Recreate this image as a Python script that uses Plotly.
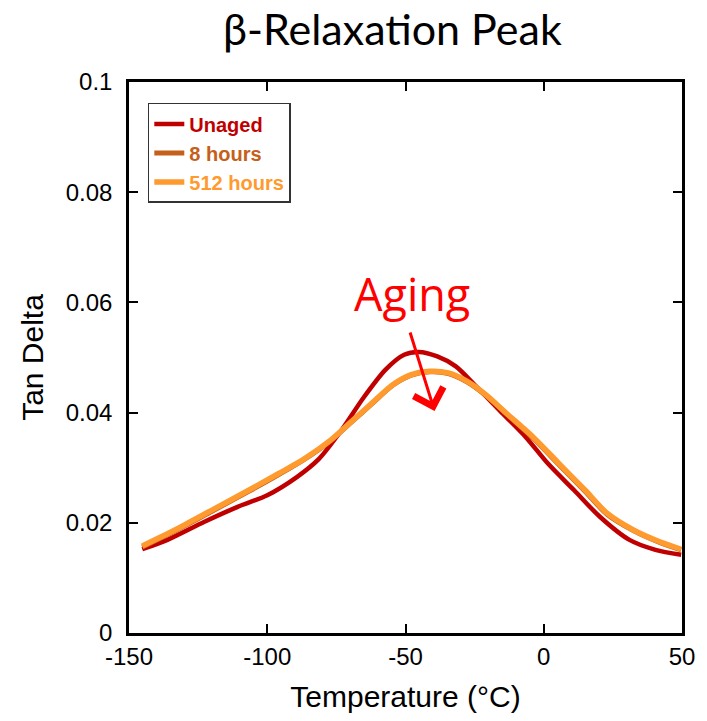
import plotly.graph_objects as go

# Temperature (°C) and tan delta values
unaged_T = [-145.2, -136.1, -122.7, -110.7, -100.0, -89.3, -81.3, -73.3, -65.2, -57.2,
            -50.5, -45.2, -38.5, -31.8, -25.1, -15.8, -6.4, 1.6, 11.0, 20.3, 31.0, 40.4, 49.7]
unaged_tan = [0.0152, 0.0169, 0.0202, 0.0229, 0.0250, 0.0283, 0.0316, 0.0367, 0.0427, 0.0478,
              0.0505, 0.0510, 0.0502, 0.0484, 0.0451, 0.0403, 0.0355, 0.0307, 0.0259, 0.0211,
              0.0169, 0.0151, 0.0142]

h8_T = [-145.2, -133.4, -120.0, -106.7, -96.0, -86.6, -77.3, -70.6, -62.6, -54.5,
        -47.9, -41.2, -34.5, -27.8, -21.1, -13.1, -3.7, 5.6, 15.0, 23.0, 32.4, 41.7, 49.7]
h8_tan = [0.0156, 0.0185, 0.0221, 0.0257, 0.0287, 0.0315, 0.0348, 0.0378, 0.0414, 0.0450,
          0.0468, 0.0474, 0.0471, 0.0456, 0.0432, 0.0396, 0.0353, 0.0305, 0.0257, 0.0215,
          0.0186, 0.0165, 0.0151]

h512_T = [-145.2, -133.4, -120.0, -106.7, -96.0, -86.6, -77.3, -70.6, -62.6, -54.5,
          -47.9, -41.2, -34.5, -27.8, -21.1, -13.1, -3.7, 5.6, 15.0, 23.0, 32.4, 41.7, 49.7]
h512_tan = [0.0158, 0.0187, 0.0223, 0.0259, 0.0289, 0.0316, 0.0349, 0.0379, 0.0415, 0.0451,
            0.0469, 0.0475, 0.0472, 0.0457, 0.0433, 0.0397, 0.0355, 0.0307, 0.0259, 0.0217,
            0.0187, 0.0166, 0.0152]

series_names = ["Unaged", "8 hours", "512 hours"]
x_ticks = [-150, -100, -50, 0, 50]
x_tick_labels = ["-150", "-100", "-50", "0", "50"]
y_ticks = [0, 0.02, 0.04, 0.06, 0.08, 0.1]
y_tick_labels = ["0", "0.02", "0.04", "0.06", "0.08", "0.1"]

colors = ["#C00000", "#C5601A", "#FF9A2E"]
widths = [4.5, 5, 5.5]

fig = go.Figure()
for name, xs, ys, c, w in zip(series_names,
                              [unaged_T, h8_T, h512_T],
                              [unaged_tan, h8_tan, h512_tan],
                              colors, widths):
    fig.add_trace(go.Scatter(
        x=xs, y=ys, mode="lines",
        line=dict(color=c, width=w, shape="spline", smoothing=0.8),
        name=f"<b><span style='color:{c}'>{name}</span></b>",
    ))

axis_font = dict(family="Liberation Sans", size=24, color="black")
title_font = dict(family="Liberation Sans", size=30, color="black")

fig.update_layout(
    width=707, height=721,
    margin=dict(l=129, r=23, t=82, b=85),
    paper_bgcolor="white", plot_bgcolor="white",
    title=dict(text="β-Relaxation Peak", x=0.555, xanchor="center", y=0.958, yanchor="middle",
               font=dict(family="Lato", size=43, color="black")),
    xaxis=dict(range=[-150, 50], tickvals=x_ticks, ticktext=x_tick_labels, ticks="inside",
               ticklen=9, tickwidth=2, tickcolor="black", mirror="ticks", showline=True,
               linecolor="black", linewidth=2.5, showgrid=False, zeroline=False,
               tickfont=axis_font,
               title=dict(text="Temperature (°C)", standoff=18, font=title_font)),
    yaxis=dict(range=[0, 0.1], tickvals=y_ticks, ticktext=y_tick_labels, ticks="inside",
               ticklen=9, tickwidth=2, tickcolor="black", mirror="ticks", showline=True,
               linecolor="black", linewidth=2.5, showgrid=False, zeroline=False,
               tickfont=axis_font, ticklabelstandoff=9,
               title=dict(text="Tan Delta", standoff=14, font=title_font)),
    legend=dict(x=0.034, y=0.962, xanchor="left", yanchor="top",
                bordercolor="#333333", borderwidth=1.5, bgcolor="white",
                font=dict(family="Liberation Sans", size=20),
                tracegroupgap=0),
    showlegend=True,
)

fig.add_annotation(text="Aging", x=-47.5, y=0.0616, xref="x", yref="y", showarrow=False,
                   font=dict(family="Open Sans", size=45, color="#FF0000"))
fig.add_annotation(x=-39.5, y=0.0403, ax=-48.5, ay=0.0548, xref="x", yref="y",
                   axref="x", ayref="y", showarrow=True, arrowhead=4, arrowsize=2,
                   arrowwidth=3, arrowcolor="#FF0000", text="")

fig.write_html("out.html")
